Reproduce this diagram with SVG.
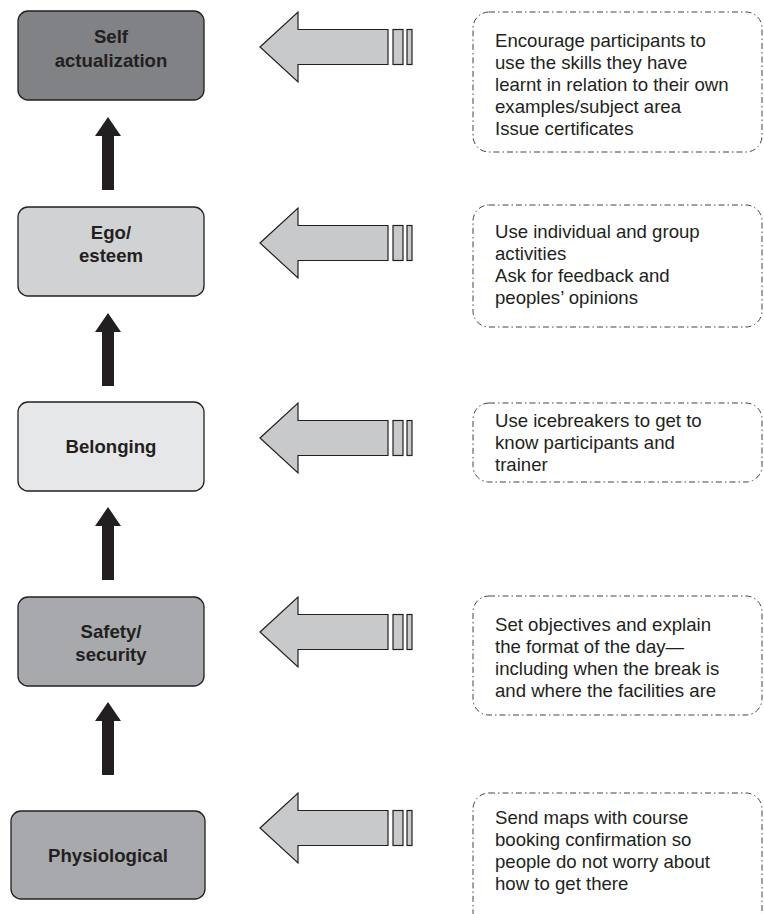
<svg xmlns="http://www.w3.org/2000/svg" xmlns:xlink="http://www.w3.org/1999/xlink" width="764" height="914" viewBox="0 0 764 914">
<style>
.node{stroke:#231f20;stroke-width:1.3}
.lbl{font-family:"Liberation Sans",Arial,sans-serif;font-weight:bold;font-size:18.6px;fill:#231f20;text-anchor:middle}
.note{fill:none;stroke:#444;stroke-width:1;stroke-dasharray:6 3 1.5 3}
.txt{font-family:"Liberation Sans",Arial,sans-serif;font-size:18.6px;fill:#231f20}
.up{fill:#231f20}
.ga{fill:#c8c9cb;stroke:#231f20;stroke-width:1.2}
</style>
<defs>
<g id="grey">
<polygon class="ga" points="260,0 298,-35 298,-17.5 388,-17.5 388,17.5 298,17.5 298,35"/>
<rect class="ga" x="393" y="-17.5" width="10" height="35"/>
<rect class="ga" x="407" y="-17.5" width="5" height="35"/>
</g>
<polygon id="uparrow" class="up" points="108,0 121,19 114,19 114,73 102,73 102,19 95,19"/>
</defs>
<g id="connectors">
<use xlink:href="#uparrow" transform="translate(0,117)"/>
<use xlink:href="#uparrow" transform="translate(0,313)"/>
<use xlink:href="#uparrow" transform="translate(0,507)"/>
<use xlink:href="#uparrow" transform="translate(0,702)"/>
<use xlink:href="#grey" transform="translate(0,47)"/>
<use xlink:href="#grey" transform="translate(0,243)"/>
<use xlink:href="#grey" transform="translate(0,438)"/>
<use xlink:href="#grey" transform="translate(0,632)"/>
<use xlink:href="#grey" transform="translate(0,828)"/>
</g>
<g id="self">
<rect class="node" x="18" y="11" width="186" height="89" rx="10" fill="#808285"/>
<text class="lbl" x="111" y="43">Self</text>
<text class="lbl" x="111" y="67">actualization</text>
</g>
<g id="ego">
<rect class="node" x="18" y="207" width="186" height="89" rx="10" fill="#d1d2d4"/>
<text class="lbl" x="111" y="239">Ego/</text>
<text class="lbl" x="111" y="262">esteem</text>
</g>
<g id="belonging">
<rect class="node" x="18" y="402" width="186" height="89" rx="10" fill="#e6e7e8"/>
<text class="lbl" x="111" y="453">Belonging</text>
</g>
<g id="safety">
<rect class="node" x="18" y="597" width="186" height="89" rx="10" fill="#a7a9ac"/>
<text class="lbl" x="111" y="638">Safety/</text>
<text class="lbl" x="111" y="661">security</text>
</g>
<g id="physiological">
<rect class="node" x="11" y="811" width="194" height="88" rx="10" fill="#a7a9ac"/>
<text class="lbl" x="108" y="862">Physiological</text>
</g>
<g id="note1">
<rect class="note" x="473" y="12" width="289" height="140" rx="16"/>
<text class="txt" x="495" y="47">Encourage participants to</text>
<text class="txt" x="495" y="69">use the skills they have</text>
<text class="txt" x="495" y="91">learnt in relation to their own</text>
<text class="txt" x="495" y="113">examples/subject area</text>
<text class="txt" x="495" y="135">Issue certificates</text>
</g>
<g id="note2">
<rect class="note" x="473" y="205" width="289" height="122" rx="16"/>
<text class="txt" x="495" y="238">Use individual and group</text>
<text class="txt" x="495" y="260">activities</text>
<text class="txt" x="495" y="282">Ask for feedback and</text>
<text class="txt" x="495" y="304">peoples’ opinions</text>
</g>
<g id="note3">
<rect class="note" x="473" y="403" width="289" height="79" rx="16"/>
<text class="txt" x="495" y="427">Use icebreakers to get to</text>
<text class="txt" x="495" y="449">know participants and</text>
<text class="txt" x="495" y="471">trainer</text>
</g>
<g id="note4">
<rect class="note" x="473" y="596" width="289" height="119" rx="16"/>
<text class="txt" x="495" y="631">Set objectives and explain</text>
<text class="txt" x="495" y="653">the format of the day—</text>
<text class="txt" x="495" y="675">including when the break is</text>
<text class="txt" x="495" y="697">and where the facilities are</text>
</g>
<g id="note5">
<rect class="note" x="473" y="793" width="289" height="135" rx="16"/>
<text class="txt" x="495" y="824">Send maps with course</text>
<text class="txt" x="495" y="846">booking confirmation so</text>
<text class="txt" x="495" y="868">people do not worry about</text>
<text class="txt" x="495" y="890">how to get there</text>
</g>
</svg>
